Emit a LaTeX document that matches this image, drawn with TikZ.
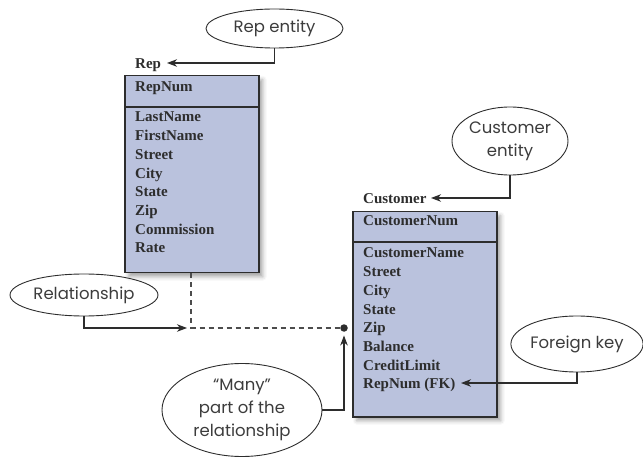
\documentclass[tikz,border=0pt]{standalone}
\usepackage{fontspec}
\newfontfamily\lblfont{Poppins}
\newfontfamily\boxfont{Liberation Serif}
\usetikzlibrary{arrows.meta,shapes.geometric,shadows.blur}
\definecolor{boxfill}{RGB}{186,194,221}
\definecolor{lblgray}{RGB}{60,60,60}
\definecolor{edgec}{RGB}{45,45,45}
\begin{document}
\begin{tikzpicture}[x=1pt,y=-1pt,
  callout/.style={ellipse,draw=edgec,line width=0.9pt,inner sep=0pt,font=\lblfont\fontsize{16.5}{23}\selectfont,text=lblgray,align=center},
  entbox/.style={draw=edgec,line width=1.5pt,fill=boxfill,anchor=north west,inner sep=0pt,
    blur shadow={shadow xshift=4pt,shadow yshift=-4pt,shadow blur radius=4pt,shadow opacity=35}},
  sepline/.style={draw=edgec,line width=1.5pt},
  attr/.style={anchor=base west,inner sep=0pt,font=\boxfont\bfseries\fontsize{15}{17}\selectfont,text=edgec},
  conn/.style={draw=edgec,line width=1.1pt,-{Stealth[length=10pt,width=7.5pt,inset=3pt]}},
  dashedconn/.style={draw=edgec!85,line width=1.3pt,dash pattern=on 5pt off 4pt}]
\useasboundingbox (0,0) rectangle (643,457);

% entity boxes
\node[entbox,minimum width=134pt,minimum height=197pt] (repbox) at (124,75) {};
\draw[sepline] (repbox.west |- 0,107) -- (repbox.east |- 0,107);
\node[entbox,minimum width=144pt,minimum height=205pt] (custbox) at (352,211) {};
\draw[sepline] (custbox.west |- 0,242) -- (custbox.east |- 0,242);

% Rep attributes
\node[attr] (replbl) at (135,68.5) {Rep};
\node[attr] (repnum) at (135,92) {RepNum};
\node[attr] (lastname) at (135,122) {LastName};
\node[attr] (firstname) at (135,141) {FirstName};
\node[attr] (rstreet) at (135,159.7) {Street};
\node[attr] (rcity) at (135,178.4) {City};
\node[attr] (rstate) at (135,197) {State};
\node[attr] (rzip) at (135,215.8) {Zip};
\node[attr] (commission) at (135,234.5) {Commission};
\node[attr] (rate) at (135,253) {Rate};

% Customer attributes
\node[attr] (custlbl) at (363,204) {Customer};
\node[attr] (custnum) at (363,226) {CustomerNum};
\node[attr] (custname) at (363,258) {CustomerName};
\node[attr] (cstreet) at (363,277) {Street};
\node[attr] (ccity) at (363,295.5) {City};
\node[attr] (cstate) at (363,314) {State};
\node[attr] (czip) at (363,332.6) {Zip};
\node[attr] (balance) at (363,351.3) {Balance};
\node[attr] (credit) at (363,370) {CreditLimit};
\node[attr] (fkrow) at (363,388.6) {RepNum (FK)};

% callouts
\node[callout,minimum width=137pt,minimum height=39pt] (repent) at (274.5,28.5) {Rep entity};
\node[callout,minimum width=116pt,minimum height=68pt] (custent) at (510,141) {Customer\\entity};
\node[callout,minimum width=148pt,minimum height=42pt] (rel) at (84,295) {Relationship};
\node[callout,minimum width=160pt,minimum height=93pt] (many) at (242,410) {“Many”\\part of the\\relationship};
\node[callout,minimum width=129pt,minimum height=56pt] (fk) at (577,344) {Foreign key};

% relationship line
\coordinate (corner) at (191,328);
\node[circle,fill=edgec,inner sep=0pt,minimum size=7.5pt] (dot) at (344,328) {};
\draw[dashedconn] (corner |- repbox.south) -- (corner) -- (dot);

% connectors
\coordinate (reptip) at (167,63);
\coordinate (custtip) at (431,198);
\coordinate (fktip) at (461,383);
\draw[conn] (repent.south) |- (reptip);
\draw[conn] (custent.south) |- (custtip);
\draw[conn] (fk.south) |- (fktip);
\draw[conn] (rel.south) |- ([xshift=-4pt]corner);
\draw[conn] (many.east) -| ([yshift=-3.5pt]dot.south);
\end{tikzpicture}
\end{document}
